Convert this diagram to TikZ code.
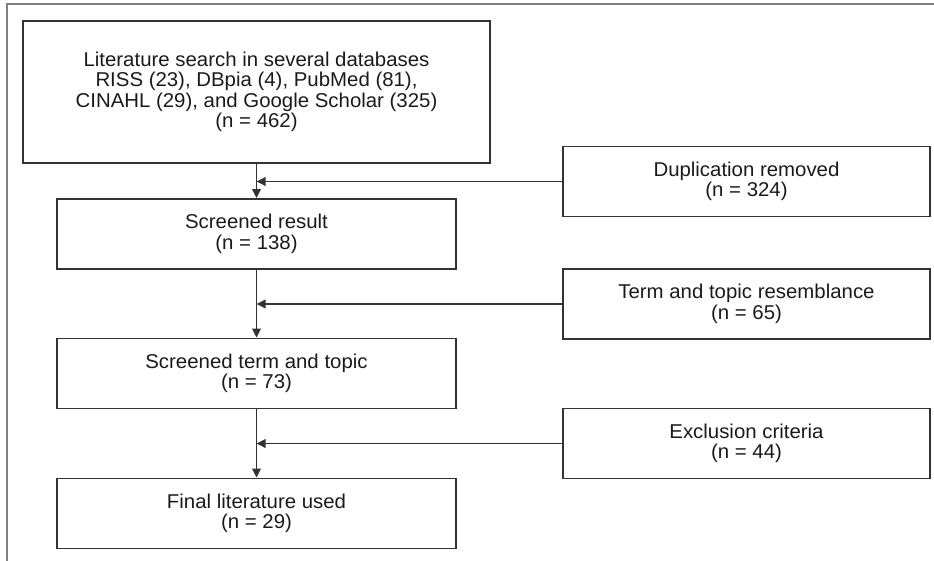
\documentclass[tikz,border=0pt]{standalone}
\usepackage{fontspec}
\setmainfont{Liberation Sans}[FakeStretch=1.02]
\usetikzlibrary{arrows.meta}
\definecolor{linec}{HTML}{333333}
\definecolor{textc}{HTML}{1A1A1A}
\definecolor{framec}{HTML}{808080}
\tikzset{
  box/.style={draw=linec, line width=1.8pt, rectangle, inner sep=0pt, align=center,
    text=textc, font=\fontsize{20}{20.5}\selectfont},
  leftbox/.style={box, minimum width=399pt, minimum height=70pt},
  rightbox/.style={box, minimum width=367pt, minimum height=70pt},
  arr/.style={draw=linec, line width=1.8pt, -{Triangle[length=9pt,width=8.5pt]}}
}
\begin{document}
\begin{tikzpicture}[x=1pt,y=-1pt]
\useasboundingbox (0,0) rectangle (934,561);
\draw[framec, line width=1.8pt] (7,561) -- (7,4) -- (934,4);
\node[box, minimum width=467pt, minimum height=142pt] (b1) at (256.5,92)
  {Literature search in several databases\\RISS (23), DBpia (4), PubMed (81),\\CINAHL (29), and Google Scholar (325)\\(n = 462)};
\node[leftbox] (b2) at (256.5,234) {Screened result\\(n = 138)};
\node[leftbox] (b3) at (256.5,373.5) {Screened term and topic\\(n = 73)};
\node[leftbox] (b4) at (256.5,513.5) {Final literature used\\(n = 29)};
\node[rightbox] (r1) at (746.5,181.5) {Duplication removed\\(n = 324)};
\node[rightbox] (r2) at (746.5,304) {Term and topic resemblance\\(n = 65)};
\node[rightbox] (r3) at (746.5,443.5) {Exclusion criteria\\(n = 44)};
\draw[arr] (b1.south) -- (b2.north);
\draw[arr] (b2.south) -- (b3.north);
\draw[arr] (b3.south) -- (b4.north);
\draw[arr] (r1.west) -- (r1.west -| b1.south);
\draw[arr] (r2.west) -- (r2.west -| b1.south);
\draw[arr] (r3.west) -- (r3.west -| b1.south);
\end{tikzpicture}
\end{document}
